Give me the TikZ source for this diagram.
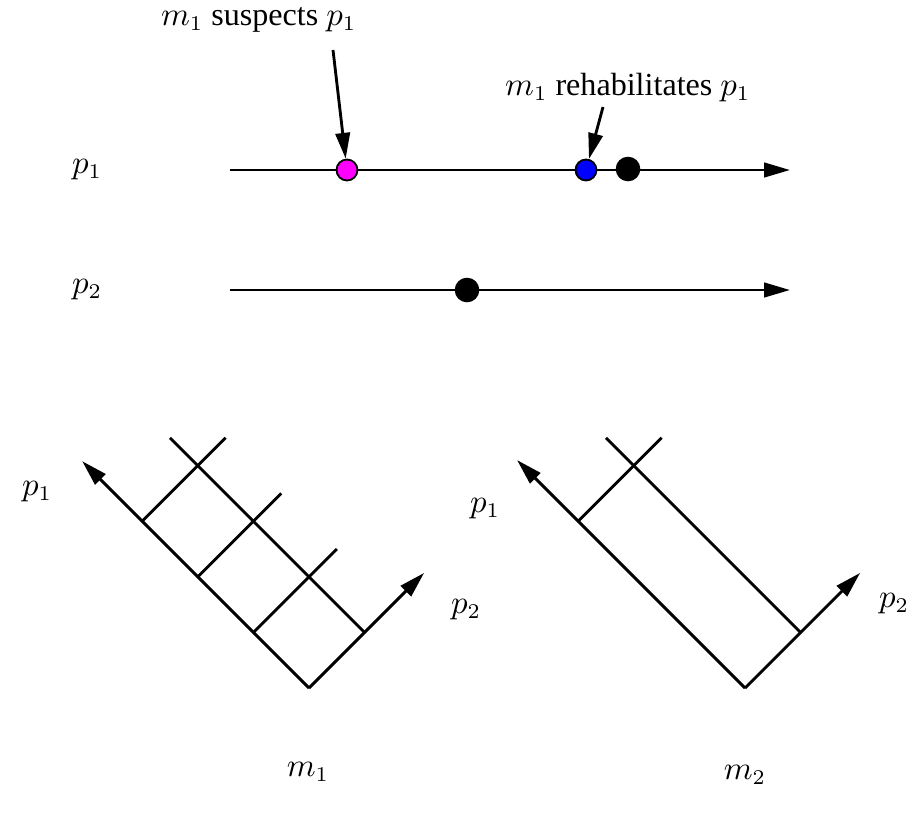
\documentclass[tikz,border=0pt]{standalone}
\usepackage{fontspec}
\setmainfont{Liberation Serif}
\usetikzlibrary{arrows.meta}
\begin{document}
\begin{tikzpicture}[x=0.3333pt,y=-0.3333pt,
  ax/.style={line width=0.95pt,-{Triangle[length=8.6pt,width=4.8pt]}},
  ln/.style={line width=0.95pt},
  ev/.style={circle,draw=black,line width=0.6pt,inner sep=0pt,minimum size=7pt},
  bk/.style={circle,fill=black,inner sep=0pt,minimum size=8.2pt},
  lbl/.style={inner sep=0pt,font=\fontsize{10.7}{13}\selectfont}]
\useasboundingbox (0,0) rectangle (911,813);
\definecolor{evmag}{RGB}{255,0,255}
\definecolor{evblue}{RGB}{0,0,255}

% time lines
\coordinate (s1) at (230,170);
\coordinate (e1) at (790,170);
\coordinate (s2) at (230,290);
\coordinate (e2) at (790,290);
\draw[ax] (s1) -- (e1);
\draw[ax] (s2) -- (e2);
\node[ev,fill=evmag] (a) at (347,170) {};
\node[ev,fill=evblue] (b) at (586,170) {};
\node[bk] (c) at (628,169) {};
\node[bk] (d) at (467,290) {};
\node[lbl] (lp1) at (87,170) {$p_1$};
\node[lbl] (lp2) at (87,290) {$p_2$};

\node[lbl,anchor=east] (t1) at (357,20) {$m_1$ suspects $p_1$};
\node[lbl,anchor=east] (t2) at (751,88) {$m_1$ rehabilitates $p_1$};
\coordinate (q1) at (333,50);
\coordinate (q2) at (603,107);
\draw[ax] (q1) -- (a);
\draw[ax] (q2) -- (b);

% left diagram m1
\begin{scope}[shift={(309,688)},x={(18.53pt,18.53pt)},y={(-18.53pt,18.53pt)}]
  \coordinate (O) at (0,0);
  \coordinate (P1) at (0,4.08);
  \coordinate (P2) at (2.07,0);
  \coordinate (B0) at (1,0);
  \coordinate (B1) at (1,3.5);
  \coordinate (R1a) at (0,1);
  \coordinate (R1b) at (1.5,1);
  \coordinate (R2a) at (0,2);
  \coordinate (R2b) at (1.5,2);
  \coordinate (R3a) at (0,3);
  \coordinate (R3b) at (1.5,3);
  \draw[ax] (O) -- (P1);
  \draw[ax] (O) -- (P2);
  \draw[ln] (B0) -- (B1);
  \draw[ln] (R1a) -- (R1b);
  \draw[ln] (R2a) -- (R2b);
  \draw[ln] (R3a) -- (R3b);
\end{scope}

% right diagram m2
\begin{scope}[shift={(745,688)},x={(18.53pt,18.53pt)},y={(-18.53pt,18.53pt)}]
  \coordinate (O2) at (0,0);
  \coordinate (Q1) at (0,4.1);
  \coordinate (Q2) at (2.07,0);
  \coordinate (C0) at (1,0);
  \coordinate (C1) at (1,3.5);
  \coordinate (S3a) at (0,3);
  \coordinate (S3b) at (1.5,3);
  \draw[ax] (O2) -- (Q1);
  \draw[ax] (O2) -- (Q2);
  \draw[ln] (C0) -- (C1);
  \draw[ln] (S3a) -- (S3b);
\end{scope}

\node[lbl] (la1) at (37,492) {$p_1$};
\node[lbl] (la2) at (466,610) {$p_2$};
\node[lbl] (lb1) at (485,509) {$p_1$};
\node[lbl] (lb2) at (894,604) {$p_2$};
\node[lbl] (m1) at (308,772) {$m_1$};
\node[lbl] (m2) at (745,775) {$m_2$};
\end{tikzpicture}
\end{document}
